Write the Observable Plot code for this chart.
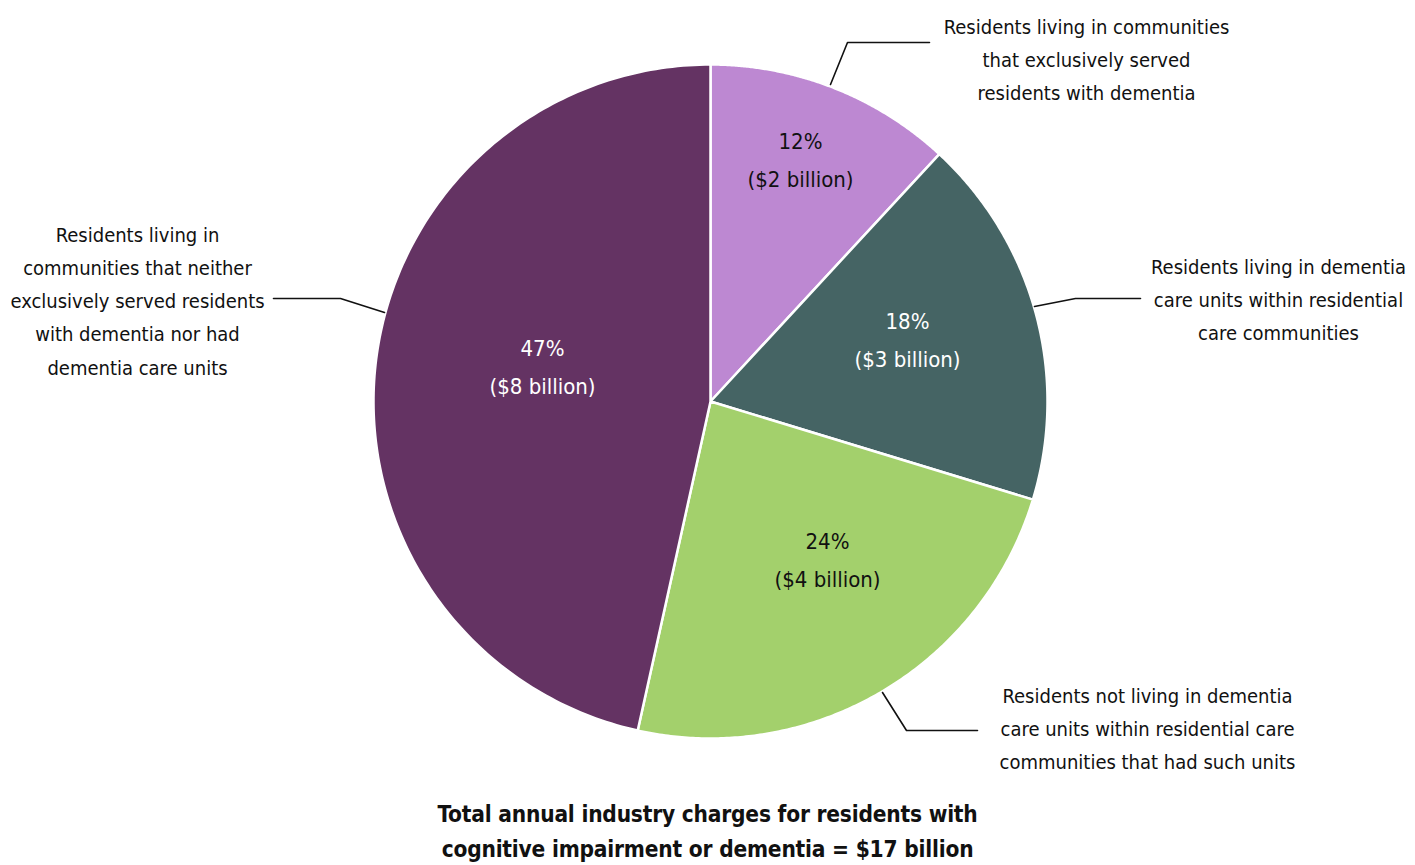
<!DOCTYPE html>
<html>
<head>
<meta charset="utf-8">
<script src="https://cdn.jsdelivr.net/npm/d3@7"></script>
<script src="https://cdn.jsdelivr.net/npm/@observablehq/plot@0.6"></script>
<style>
  html, body { margin: 0; padding: 0; background: #fff; }
  #chart { width: 1415px; height: 790px; }
  .cond { font-family: "Liberation Sans Narrow", "DejaVu Sans Condensed", "Roboto Condensed", sans-serif; font-stretch: condensed; }
  #title { text-align: center; font-weight: bold; font-size: 22.5px; letter-spacing: -0.2px; line-height: 35px; color: #111; padding-top: 7px; width: 1415px; }
</style>
</head>
<body>
<div id="chart"></div>
<div id="title" class="cond">Total annual industry charges for residents with<br>cognitive impairment or dementia = $17 billion</div>
<script>
// ---- data ----
const categories = [
  "Residents living in communities\nthat exclusively served\nresidents with dementia",
  "Residents living in dementia\ncare units within residential\ncare communities",
  "Residents not living in dementia\ncare units within residential care\ncommunities that had such units",
  "Residents living in\ncommunities that neither\nexclusively served residents\nwith dementia nor had\ndementia care units"
];
const shares = [12, 18, 24, 47];          // percent
const billions = [2, 3, 4, 8];            // $ billion

// ---- style / layout ----
const colors = ["#bd88d2", "#456464", "#a3d06c", "#643363"];
const innerTextColors = ["#111", "#fff", "#111", "#fff"];
const R = 337;
// offsets from pie centre (px units of the scales)
const innerPos = [[90, -246], [197, -66], [117, 154], [-168, -39]];
const outerPos = [[376, -345], [568, -105], [437, 324], [-573, -104]];
const leaders = [
  [[120, -317], [137, -359], [219, -359]],
  [[324, -95], [365, -103], [430, -103]],
  [[172, 291], [196, 329], [267, 329]],
  [[-326, -89], [-370, -103], [-437, -103]]
];

const W = 1415, H = 790, cx = 710, cy = 401;
const font = '"Liberation Sans Narrow", "DejaVu Sans Condensed", "Roboto Condensed", sans-serif';

const arcs = d3.pie().sort(null).value(d => d)(shares);
const slices = arcs.map((a, i) => {
  const n = 180;
  const pts = [{x: 0, y: 0}];
  for (let k = 0; k <= n; k++) {
    const t = a.startAngle + (a.endAngle - a.startAngle) * k / n;
    pts.push({x: R * Math.sin(t), y: -R * Math.cos(t)});
  }
  pts.push({x: 0, y: 0});
  return pts;
});

const innerLabels = shares.map((s, i) => ({
  x: innerPos[i][0], y: innerPos[i][1],
  text: `${s}%\n($${billions[i]} billion)`, fill: innerTextColors[i]
}));
const outerLabels = categories.map((c, i) => ({x: outerPos[i][0], y: outerPos[i][1], text: c}));
const leaderPts = leaders.flatMap((l, i) => l.map(p => ({x: p[0], y: p[1], k: i})));

const plot = Plot.plot({
  width: W, height: H,
  margin: 0,
  x: {domain: [-cx, W - cx], range: [0, W], axis: null},
  y: {domain: [-cy, H - cy], range: [0, H], axis: null},
  style: {fontFamily: font, background: "#fff"},
  marks: [
    ...slices.map((pts, i) => Plot.line(pts, {x: "x", y: "y", fill: colors[i], stroke: "#fff", strokeWidth: 2.5, strokeLinejoin: "round"})),
    Plot.text(innerLabels, {x: "x", y: "y", text: "text", fill: d => d.fill, fontSize: 22, lineHeight: 1.73, fontFamily: font}),
    Plot.text(outerLabels, {x: "x", y: "y", text: "text", fill: "#111", fontSize: 20, lineHeight: 1.66, fontFamily: font}),
    Plot.line(leaderPts, {x: "x", y: "y", z: "k", stroke: "#111", strokeWidth: 1.6})
  ]
});
document.getElementById("chart").appendChild(plot);
</script>
</body>
</html>
